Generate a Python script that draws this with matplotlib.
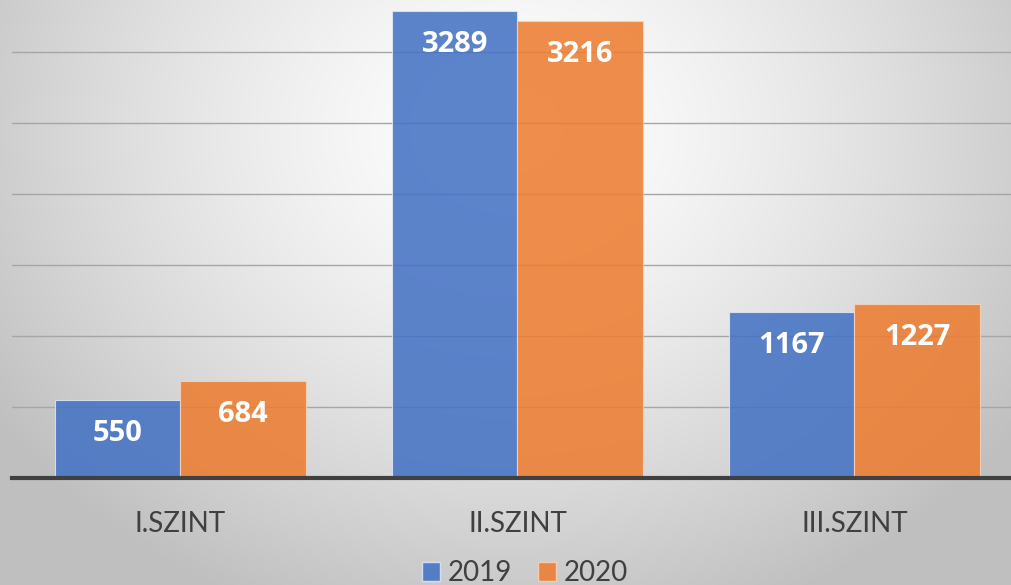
import numpy as np
import matplotlib.pyplot as plt
from matplotlib.patches import Patch

# Data
categories = ["I.SZINT", "II.SZINT", "III.SZINT"]
values_2019 = [550, 3289, 1167]
values_2020 = [684, 3216, 1227]
series_names = ["2019", "2020"]

blue = "#4472C4"
orange = "#ED7D31"

plt.rcParams["font.family"] = ["Lato", "DejaVu Sans"]

fig = plt.figure(figsize=(10.12, 5.85), dpi=100)

# Radial gradient background
bg = fig.add_axes([0, 0, 1, 1])
yy, xx = np.mgrid[0:585, 0:1012]
r = np.sqrt(((xx - 510) / 620.0) ** 2 + ((yy - 130) / 520.0) ** 2)
r = np.clip(r, 0, 1)
shade = 1.0 - 0.25 * r ** 1.4
img = np.dstack([shade, shade, shade])
bg.imshow(img, aspect="auto", extent=[0, 1, 0, 1], origin="upper")
bg.axis("off")

# Main axes
ax = fig.add_axes([12 / 1012, 107 / 585, 1011 / 1012, 478 / 585])
ax.patch.set_alpha(0)

x = np.arange(len(categories))
w = 0.372
b1 = ax.bar(x - w / 2, values_2019, w, color=blue, alpha=0.87,
            edgecolor="#dfe6f3", linewidth=0.8, zorder=3)
b2 = ax.bar(x + w / 2, values_2020, w, color=orange, alpha=0.87,
            edgecolor="#f6d3bb", linewidth=0.8, zorder=3)

for bars in (b1, b2):
    for rect in bars:
        h = rect.get_height()
        ax.annotate(f"{int(h)}", (rect.get_x() + rect.get_width() / 2, h),
                    xytext=(0, -24), textcoords="offset points",
                    ha="center", va="center", color="white",
                    fontsize=21, fontweight="bold", family="Open Sans", zorder=5)

ax.set_xlim(-0.5, 2.5)
ax.set_ylim(0, 3366)
ax.set_yticks(np.arange(500, 3500, 500))
ax.yaxis.grid(True, color="#a6a6a6", linewidth=1.0, zorder=1)
ax.tick_params(axis="y", left=False, labelleft=False)
ax.tick_params(axis="x", bottom=False, labelsize=20, labelcolor="#404040", pad=20)
ax.set_xticks(x)
ax.set_xticklabels(categories)
for s in ["top", "right", "left"]:
    ax.spines[s].set_visible(False)
ax.spines["bottom"].set_color("#404040")
ax.spines["bottom"].set_linewidth(3)
ax.spines["bottom"].set_zorder(4)

handles = [Patch(facecolor=blue, alpha=0.87, edgecolor="#dfe6f3"),
           Patch(facecolor=orange, alpha=0.87, edgecolor="#f6d3bb")]
fig.legend(handles, series_names, loc="center", bbox_to_anchor=(525 / 1012, 1 - 573 / 585),
           ncol=2, frameon=False, fontsize=20, handlelength=0.65, handleheight=0.65,
           handletextpad=0.3, columnspacing=0.9, labelcolor="#404040")

fig.savefig("out.png", dpi=100)
